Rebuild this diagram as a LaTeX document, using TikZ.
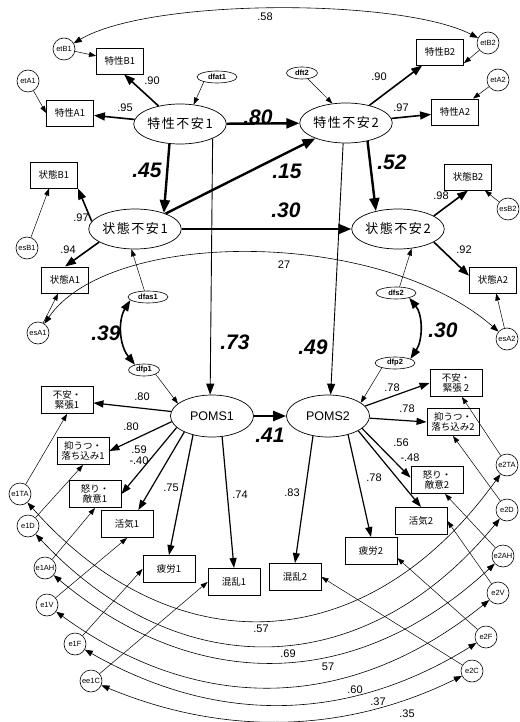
\documentclass[tikz,border=0pt]{standalone}
\usepackage{fontspec}
\setmainfont{Liberation Sans}
\newfontfamily\jp{Noto Sans CJK JP}
\newfontfamily\jpwide[LetterSpace=12]{Noto Sans CJK JP}
\usetikzlibrary{
  arrows.meta,
  positioning,
  shapes.geometric,
  calc
}

\begin{document}
\begin{tikzpicture}[
  x=1pt, y=-1pt,
  latent/.style={ellipse, draw, line width=0.7pt, minimum width=84pt, minimum height=40pt, inner sep=0pt, font=\jpwide\fontsize{13}{15}\selectfont},
  poms/.style={ellipse, draw, line width=0.7pt, minimum width=83pt, minimum height=42pt, inner sep=0pt, font=\fontsize{12.5}{14}\selectfont},
  ind/.style={rectangle, draw, line width=0.9pt, minimum width=47pt, minimum height=26pt, inner sep=1pt, align=center, font=\jp\fontsize{9.5}{10.5}\selectfont},
  pind/.style={ind, minimum width=52pt, minimum height=27pt},
  resid/.style={circle, draw, line width=0.6pt, minimum size=22pt, inner sep=0pt, font=\fontsize{7.5}{8}\selectfont},
  dist/.style={ellipse, draw, line width=0.6pt, minimum width=40pt, minimum height=12pt, inner sep=0pt, font=\bfseries\fontsize{7.5}{8}\selectfont},
  strong/.style={line width=2.4pt, -{Triangle[length=13pt,width=10pt]}},
  load/.style={line width=1.6pt, -{Triangle[length=11pt,width=8pt]}},
  pload/.style={line width=1.2pt, -{Triangle[length=10pt,width=7pt]}},
  reg/.style={line width=0.9pt, -{Triangle[length=11pt,width=8pt]}},
  errarr/.style={line width=0.5pt, -{Triangle[length=7pt,width=5pt]}},
  cov/.style={line width=0.6pt, {Triangle[length=8pt,width=6pt]}-{Triangle[length=8pt,width=6pt]}},
  bcov/.style={line width=1.6pt, {Triangle[length=11pt,width=8pt]}-{Triangle[length=11pt,width=8pt]}},
  coef/.style={font=\fontsize{11}{12}\selectfont, inner sep=0pt},
  bcoef/.style={font=\bfseries\itshape\fontsize{21}{22}\selectfont, inner sep=0pt},
]
\useasboundingbox (0,0) rectangle (519,722);
\clip (0,0) rectangle (519,722);
\fill[white] (0,0) rectangle (519,722);

\node[latent] (trait1) at (180,124) {特性不安1};
\node[latent] (trait2) at (346,123) {特性不安2};
\node[latent] (state1) at (135,229) {状態不安1};
\node[latent] (state2) at (398,229) {状態不安2};
\node[poms] (poms1) at (212,416) {POMS1};
\node[poms] (poms2) at (328,416) {POMS2};

\node[ind] (trb1) at (120,61) {特性B1};
\node[ind] (tra1) at (70,113) {特性A1};
\node[ind] (trb2) at (440,52) {特性B2};
\node[ind] (tra2) at (455,112) {特性A2};
\node[ind] (stb1) at (54,175) {状態B1};
\node[ind] (sta1) at (65,280) {状態A1};
\node[ind] (stb2) at (468,177) {状態B2};
\node[ind] (sta2) at (493,280) {状態A2};

\node[pind] (tens1) at (67,400) {不安・\\緊張1};
\node[pind] (dep1) at (83,451) {抑うつ・\\落ち込み1};
\node[pind] (ang1) at (95,494) {怒り・\\敵意1};
\node[pind] (vig1) at (127,524) {活気1};
\node[pind] (fat1) at (169,569) {疲労1};
\node[pind] (con1) at (234,582) {混乱1};
\node[pind] (tens2) at (456,383) {不安・\\緊張 2};
\node[pind] (dep2) at (453,422) {抑うつ・\\落ち込み2};
\node[pind] (ang2) at (437,480) {怒り・\\敵意2};
\node[pind] (vig2) at (421,521) {活気2};
\node[pind] (fat2) at (371,551) {疲労2};
\node[pind] (con2) at (295,577) {混乱2};

\node[resid] (etb1) at (64,49) {etB1};
\node[resid] (eta1) at (28,81) {etA1};
\node[resid] (etb2) at (488,43) {etB2};
\node[resid] (eta2) at (498,80) {etA2};
\node[resid] (esb1) at (27,248) {esB1};
\node[resid] (esa1) at (38,333) {esA1};
\node[resid] (esb2) at (508,209) {esB2};
\node[resid] (esa2) at (507,339) {esA2};

\node[resid] (e1ta) at (20,494) {e1TA};
\node[resid] (e1d) at (28,526) {e1D};
\node[resid] (e1ah) at (45,568) {e1AH};
\node[resid] (e1v) at (47,605) {e1V};
\node[resid] (e1f) at (75,644) {e1F};
\node[resid] (ee1c) at (91,681) {ee1C};
\node[resid] (e2ta) at (507,465) {e2TA};
\node[resid] (e2d) at (507,510) {e2D};
\node[resid] (e2ah) at (503,556) {e2AH};
\node[resid] (e2v) at (498,593) {e2V};
\node[resid] (e2f) at (486,637) {e2F};
\node[resid] (e2c) at (472,671) {e2C};

\node[dist] (dfat1) at (217,77) {dfat1};
\node[dist, minimum width=31pt] (dft2) at (302,73) {dft2};
\node[dist] (dfas1) at (148,297) {dfas1};
\node[dist] (dfs2) at (396,293) {dfs2};
\node[dist, minimum width=31pt] (dfp1) at (144,370) {dfp1};
\node[dist] (dfp2) at (395,363) {dfp2};

\draw[strong] (trait1) -- (trait2);
\draw[strong] (state1) -- (state2);
\draw[strong] (state1) -- (trait2);
\draw[strong] (trait1.242) -- (state1.29);
\draw[strong] (trait2.-40) -- (state2.141);
\draw[strong] (poms1) -- (poms2);
\draw[reg] (trait1.-24) -- (poms1.95);
\draw[reg] (trait2.-98) -- (poms2.83);

\draw[load] (trait1.140) -- (trb1.-73);
\draw[load] (trait1) -- (tra1);
\draw[load] (trait2) -- (trb2);
\draw[load] (trait2) -- (tra2);
\draw[load] (state1.170) -- (stb1.south east);
\draw[load] (state1.200) -- (sta1.north);
\draw[load] (state2.20) -- (stb2.south);
\draw[load] (state2.-20) -- (sta2.170);

\draw[pload] (poms1) -- (tens1);
\draw[pload] (poms1.188) -- (dep1.east);
\draw[pload] (poms1.198) -- (ang1.east);
\draw[pload] (poms1.210) -- (vig1.51);
\draw[pload] (poms1.225) -- (fat1.north);
\draw[pload] (poms1.-64) -- (con1.north);
\draw[pload] (poms2.15) -- (tens2.west);
\draw[pload] (poms2.-3) -- (dep2.west);
\draw[pload] (poms2.-20) -- (ang2.175);
\draw[pload] (poms2.-26) -- (vig2.north);
\draw[pload] (poms2.-43) -- (fat2.north);
\draw[pload] (poms2.-127) -- (con2.north);

\draw[errarr] (dfat1.-160) -- (trait1.55);
\draw[errarr] (dft2) -- (trait2.125);
\draw[errarr] (dfas1.120) -- (state1.-100);
\draw[errarr] (dfs2.60) -- (state2.-55);
\draw[errarr] (dfp1.-20) -- (poms1.160);
\draw[errarr] (dfp2.200) -- (poms2.22);

\draw[errarr] (etb1) -- (trb1);
\draw[errarr] (eta1) -- (tra1.west);
\draw[errarr] (etb2) -- (trb2.-25);
\draw[errarr] (eta2) -- (tra2);
\draw[errarr] (esb1) -- (stb1);
\draw[errarr] (esa1) -- (sta1);
\draw[errarr] (esb2) -- (stb2);
\draw[errarr] (esa2) -- (sta2);

\draw[errarr] (e1ta) -- (tens1.south);
\draw[errarr] (e1d) -- (dep1.south);
\draw[errarr] (e1ah) -- (ang1.south);
\draw[errarr] (e1v) -- (vig1.south);
\draw[errarr] (e1f) -- (fat1.west);
\draw[errarr] (ee1c) -- (con1.west);
\draw[errarr] (e2ta) -- (tens2.-67);
\draw[errarr] (e2d) -- (dep2.south);
\draw[errarr] (e2ah) -- (ang2.-60);
\draw[errarr] (e2v) -- (vig2.east);
\draw[errarr] (e2f) -- (fat2.-15);
\draw[errarr] (e2c) -- (con2.east);

\draw[cov] (etb1) .. controls (150,-2) and (400,-2) .. (etb2);
\draw[cov] (esa1) .. controls (110,228) and (380,228) .. (esa2);
\draw[bcov] (dfas1.190) .. controls (118,320) and (119,345) .. (dfp1.150);
\draw[bcov] (dfs2.-20) .. controls (423,315) and (423,340) .. (dfp2.15);
\draw[cov] (e1ta) .. controls (170,664) and (364,664) .. (e2ta);
\draw[cov] (e1d) .. controls (178,686) and (364,684) .. (e2d);
\draw[cov] (e1ah) .. controls (195,693) and (355,693) .. (e2ah);
\draw[cov] (e1v) .. controls (197,714) and (348,714) .. (e2v);
\draw[cov] (e1f) .. controls (215,724) and (346,724) .. (e2f);
\draw[cov] (ee1c) .. controls (221,735) and (342,735) .. (e2c);

\node[bcoef] (w80) at (258,117) {.80};
\node[bcoef] (w45) at (147,170) {.45};
\node[bcoef] (w15) at (287,171) {.15};
\node[bcoef] (w52) at (392,162) {.52};
\node[bcoef] (w30) at (286,210) {.30};
\node[bcoef] (w39) at (106,333) {.39};
\node[bcoef] (w73) at (235,342) {.73};
\node[bcoef] (w49) at (313,347) {.49};
\node[bcoef] (w30b) at (443,330) {.30};
\node[bcoef] (w41) at (270,435) {.41};

\node[coef] (ltrb1) at (152,81) {.90};
\node[coef] (ltra1) at (125,108) {.95};
\node[coef] (ltrb2) at (379,77) {.90};
\node[coef] (ltra2) at (401,108) {.97};
\node[coef] (lstb1) at (81,218) {.97};
\node[coef] (lsta1) at (68,250) {.94};
\node[coef] (lstb2) at (441,196) {.98};
\node[coef] (lsta2) at (464,250) {.92};
\node[coef] (l58) at (265,17) {.58};
\node[coef] (l27) at (284,265) {27};

\node[coef] (ltens1) at (142,397) {.80};
\node[coef] (ldep1) at (131,427) {.80};
\node[coef] (lang1) at (139,450) {.59};
\node[coef] (lvig1) at (139,461) {-.40};
\node[coef] (lfat1) at (171,488) {.75};
\node[coef] (lcon1) at (240,495) {.74};
\node[coef] (ltens2) at (392,388) {.78};
\node[coef] (ldep2) at (407,409) {.78};
\node[coef] (lang2) at (401,443) {.56};
\node[coef] (lvig2) at (410,458) {-.48};
\node[coef] (lfat2) at (374,478) {.78};
\node[coef] (lcon2) at (292,493) {.83};

\node[coef] (lta) at (261,629) {.57};
\node[coef] (ld) at (288,654) {.69};
\node[coef] (lah) at (328,667) {57};
\node[coef] (lv) at (355,690) {.60};
\node[coef] (lf) at (378,702) {.37};
\node[coef] (lc) at (407,714) {.35};
\end{tikzpicture}
\end{document}
